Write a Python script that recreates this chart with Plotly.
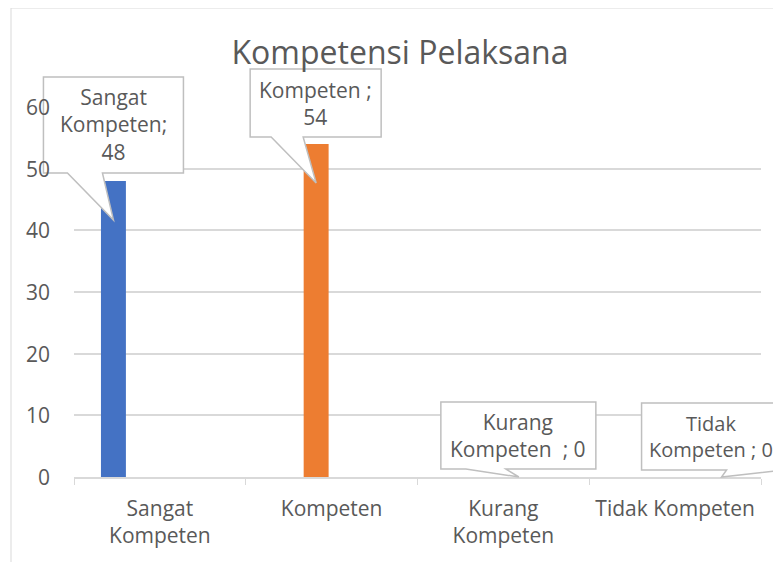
import plotly.graph_objects as go

# ---- data ----
categories = ["Sangat Kompeten", "Kompeten", "Kurang Kompeten", "Tidak Kompeten"]
tick_labels = ["Sangat<br>Kompeten", "Kompeten", "Kurang<br>Kompeten", "Tidak Kompeten"]
y_ticks = [0, 10, 20, 30, 40, 50, 60]
values = [48, 54, 0, 0]
callout_texts = ["Sangat<br>Kompeten;<br>48", "Kompeten ;<br>54", "Kurang<br>Kompeten  ; 0", "Tidak<br>Kompeten ; 0"]
colors = ["#4472C4", "#ED7D31", "#A5A5A5", "#FFC000"]

# ---- layout geometry (page pixels; page body has 8px margin) ----
OFF = 8
W, H = 781 - OFF, 562 - OFF
PL, PR, PT, PB = 74, 761, 107, 477          # plot area in page px
ML, MT = PL - OFF, PT - OFF
MR, MB = (OFF + W) - PR, (OFF + H) - PB
PW, PH = PR - PL, PB - PT
YMAX = 60
BARGAP = 0.279
GROUPGAP = 0.194
FONT = "Open Sans"
TXT = "#595959"
GRID = "#d9d9d9"

n = len(categories)
slot = (1 - BARGAP) / n

fig = go.Figure()
for i, cat in enumerate(categories):
    fig.add_trace(go.Bar(x=[cat], y=[values[i]], name=cat, marker_color=colors[i],
                         marker_line_width=0,
                         offset=-(1 - BARGAP) / 2 + i * slot + slot * GROUPGAP / 2,
                         width=slot * (1 - GROUPGAP), showlegend=False))

# callout offsets in px relative to the tip: box l, r, t, b, wedge base w1, w2, text dx, text size
callout_geom = [
    (-70, 70, -143, -47, -46, -11, 0, 21),
    (-66, 65, -114, -46, -45, -13, 0, 21),
    (-78, 77, -75, -8, -53, -13, 0, 21),
    (-80, 110, -74, -7, 5, 63, -10, 20),
]
TIP_DEPTH = 39  # px below bar top


def to_paper(X, Y):
    return (X - PL) / PW, (PB - Y) / PH


shapes = []
annotations = []
for i, v in enumerate(values):
    xc = i - (1 - BARGAP) / 2 + (i + 0.5) * slot
    tip_x = PL + (xc + 0.5) / n * PW
    tip_val = max(v - TIP_DEPTH * YMAX / PH, 0)
    tip_y = PB - tip_val / YMAX * PH
    l, r, t, b, w1, w2, tdx, tsz = callout_geom[i]
    rel = lambda dx, dy: to_paper(tip_x + dx, tip_y + dy)
    pts = [rel(l, t), rel(r, t), rel(r, b), rel(w2, b), rel(0, 0), rel(w1, b), rel(l, b)]
    path = "M " + " L ".join(f"{a:.5f},{c:.5f}" for a, c in pts) + " Z"
    shapes.append(dict(type="path", path=path, xref="paper", yref="paper",
                       line=dict(color="#bfbfbf", width=1.5), fillcolor="white", layer="above"))
    cx, cy = rel(tdx + (l + min(r, 78)) / 2, (t + b) / 2)
    annotations.append(dict(text=callout_texts[i], x=cx, y=cy, xref="paper", yref="paper",
                            showarrow=False, xanchor="center", yanchor="middle", align="center",
                            font=dict(family=FONT, size=tsz, color=TXT)))

# y tick labels drawn as annotations so they sit above the callouts
for tv in y_ticks:
    annotations.append(dict(text=str(tv), x=0, y=tv, xref="paper", yref="y",
                            xanchor="right", yanchor="middle", xshift=-22, showarrow=False,
                            font=dict(family=FONT, size=21, color=TXT)))

# outer chart border
bx0, by1 = to_paper(11, 8)
bx1, by0 = to_paper(830, 620)
shapes.insert(0, dict(type="rect", xref="paper", yref="paper", x0=bx0, x1=bx1, y0=by0, y1=by1,
                      line=dict(color=GRID, width=1), fillcolor="rgba(0,0,0,0)", layer="below"))

fig.update_layout(
    width=W, height=H,
    margin=dict(l=ML, r=MR, t=MT, b=MB, pad=0),
    paper_bgcolor="white", plot_bgcolor="white",
    barmode="overlay",
    title=dict(text="Kompetensi Pelaksana", x=(400 - OFF) / W, xanchor="center",
               y=1 - (53 - OFF) / H, yanchor="middle", yref="container",
               font=dict(family=FONT, size=32, color=TXT)),
    font=dict(family=FONT, size=21, color=TXT),
    shapes=shapes, annotations=annotations,
)
fig.update_xaxes(type="category", categoryorder="array", categoryarray=categories,
                 tickvals=categories, ticktext=tick_labels,
                 showline=True, linecolor=GRID, linewidth=1.5,
                 ticks="outside", tickson="boundaries", ticklen=6, tickcolor=GRID,
                 ticklabelstandoff=12,
                 showgrid=False, tickfont=dict(family=FONT, size=21, color=TXT))
fig.update_yaxes(range=[0, YMAX], tickvals=y_ticks, showgrid=True, gridcolor=GRID, gridwidth=1.5,
                 zeroline=False, showline=False, ticks="", showticklabels=False)

fig.write_html("out.html")
